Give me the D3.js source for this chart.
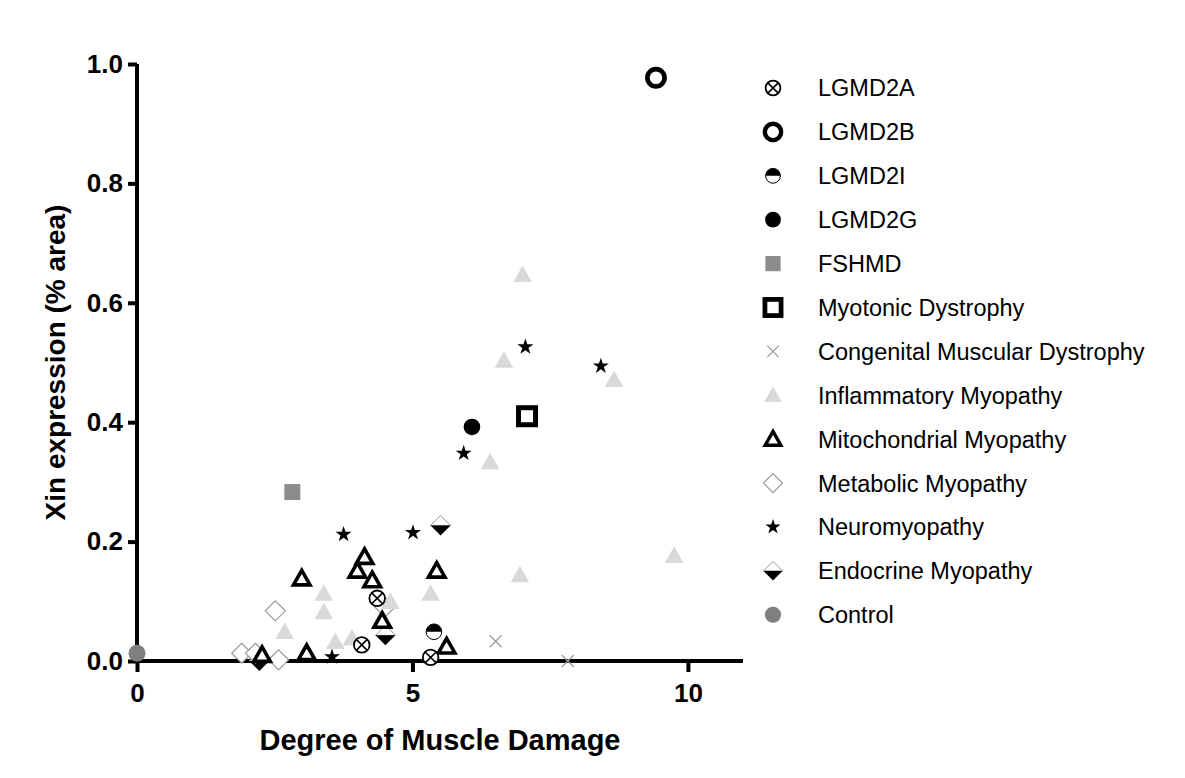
<!DOCTYPE html>
<html lang="en">
<head>
<meta charset="UTF-8">
<title>Xin expression vs muscle damage</title>
<script src="https://d3js.org/d3.v7.min.js"></script>
<style>
  body { margin: 0; background: #fff; }
  svg text { font-family: "Liberation Sans", Arial, sans-serif; }
</style>
</head>
<body>
<div id="chart"></div>
<script>
// series names, in legend order
const seriesNames = ["LGMD2A", "LGMD2B", "LGMD2I", "LGMD2G", "FSHMD", "Myotonic Dystrophy",
  "Congenital Muscular Dystrophy", "Inflammatory Myopathy", "Mitochondrial Myopathy",
  "Metabolic Myopathy", "Neuromyopathy", "Endocrine Myopathy", "Control"];

// values: damage score (x) and Xin % area (y)
const lgmd2aX = [4.36, 4.08, 5.33];
const lgmd2aY = [0.105, 0.027, 0.006];
const lgmd2bX = [9.42];
const lgmd2bY = [0.977];
const lgmd2iX = [5.39];
const lgmd2iY = [0.049];
const lgmd2gX = [6.08];
const lgmd2gY = [0.392];
const fshmdX = [2.82];
const fshmdY = [0.283];
const myotonicX = [7.08];
const myotonicY = [0.41];
const congenitalX = [6.51, 7.82];
const congenitalY = [0.033, 0.0];
const inflamX = [2.68, 3.39, 3.39, 3.6, 3.9, 4.6, 5.33, 6.41, 6.66, 7.0, 6.95, 8.66, 9.75];
const inflamY = [0.049, 0.113, 0.082, 0.032, 0.038, 0.099, 0.113, 0.333, 0.503, 0.647, 0.144, 0.471, 0.176];
const mitoX = [2.27, 2.99, 3.08, 4.13, 4.0, 4.27, 4.45, 5.44, 5.62];
const mitoY = [0.01, 0.138, 0.013, 0.174, 0.151, 0.135, 0.067, 0.151, 0.024];
const metabolicX = [1.9, 2.15, 2.51, 2.57, 4.5];
const metabolicY = [0.013, 0.013, 0.084, 0.002, 0.09];
const neuroX = [3.54, 3.75, 5.01, 5.93, 7.05, 8.42];
const neuroY = [0.007, 0.212, 0.215, 0.348, 0.526, 0.494];
const endocrineX = [2.22, 4.51, 5.51];
const endocrineY = [0.0, 0.043, 0.227];
const controlX = [0];
const controlY = [0.013];

const xTicks = [0, 5, 10];
const yTicks = [0, 0.2, 0.4, 0.6, 0.8, 1.0];

const seriesX = [lgmd2aX, lgmd2bX, lgmd2iX, lgmd2gX, fshmdX, myotonicX, congenitalX,
  inflamX, mitoX, metabolicX, neuroX, endocrineX, controlX];
const seriesY = [lgmd2aY, lgmd2bY, lgmd2iY, lgmd2gY, fshmdY, myotonicY, congenitalY,
  inflamY, mitoY, metabolicY, neuroY, endocrineY, controlY];
const markers = ["otimes", "ring", "half", "dot", "graysq", "boxsq", "cross",
  "lighttri", "mitotri", "diamond", "star", "endo", "control"];

const width = 1185, height = 778;
const svg = d3.select("#chart").append("svg")
  .attr("width", width)
  .attr("height", height);

const x = d3.scaleLinear().domain([0, 11]).range([137, 743]);
const y = d3.scaleLinear().domain([0, 1]).range([661, 64]);

// draws one marker centred on (0,0) of g; k scales it
function drawMarker(g, type, k) {
  const tri = s => `M0,${-s * 0.55}L${s * 0.55},${s * 0.42}L${-s * 0.55},${s * 0.42}Z`;
  if (type === "otimes") {
    const r = 7.8 * k;
    g.append("circle").attr("r", r).attr("fill", "#fff").attr("stroke", "#000").attr("stroke-width", 1.8);
    const d = r * 0.7;
    g.append("path").attr("d", `M${-d},${-d}L${d},${d}M${d},${-d}L${-d},${d}`)
      .attr("stroke", "#000").attr("stroke-width", 1.6);
  } else if (type === "ring") {
    g.append("circle").attr("r", 8.6 * k).attr("fill", "#fff").attr("stroke", "#000").attr("stroke-width", 4.6 * k);
  } else if (type === "half") {
    const r = 7.8 * k;
    g.append("circle").attr("r", r).attr("fill", "#fff").attr("stroke", "#000").attr("stroke-width", 1);
    g.append("path").attr("d", `M${-r},0A${r},${r} 0 0 1 ${r},0Z`).attr("fill", "#000");
  } else if (type === "dot") {
    g.append("circle").attr("r", 8.3 * k).attr("fill", "#000");
  } else if (type === "graysq") {
    const s = 16 * k;
    g.append("rect").attr("x", -s / 2).attr("y", -s / 2).attr("width", s).attr("height", s).attr("fill", "#8c8c8c");
  } else if (type === "boxsq") {
    const s = 17 * k;
    g.append("rect").attr("x", -s / 2).attr("y", -s / 2).attr("width", s).attr("height", s)
      .attr("fill", "#fff").attr("stroke", "#000").attr("stroke-width", 5 * k);
  } else if (type === "cross") {
    const d = 6 * k;
    g.append("path").attr("d", `M${-d},${-d}L${d},${d}M${d},${-d}L${-d},${d}`)
      .attr("stroke", "#999").attr("stroke-width", 1.2);
  } else if (type === "lighttri") {
    g.append("path").attr("d", tri(17 * k)).attr("fill", "#d9d9d9");
  } else if (type === "mitotri") {
    g.append("path").attr("d", tri(15 * k)).attr("fill", "#fff")
      .attr("stroke", "#000").attr("stroke-width", 3.6 * k).attr("stroke-linejoin", "miter");
  } else if (type === "diamond") {
    const s = 10 * k;
    g.append("path").attr("d", `M0,${-s}L${s},0L0,${s}L${-s},0Z`).attr("fill", "#fff")
      .attr("stroke", "#999").attr("stroke-width", 1.2);
  } else if (type === "star") {
    g.append("path").attr("d", d3.symbol(d3.symbolStar, 80 * k * k)()).attr("fill", "#000");
  } else if (type === "endo") {
    const s = 10 * k;
    g.append("path").attr("d", `M${-s},0L0,${-s}L${s},0Z`).attr("fill", "#fff")
      .attr("stroke", "#999").attr("stroke-width", 1);
    g.append("path").attr("d", `M${-s},0L${s},0L0,${s}Z`).attr("fill", "#000");
  } else if (type === "control") {
    g.append("circle").attr("r", 8.5 * k).attr("fill", "#7f7f7f");
  }
}

// axes
const xAxis = svg.append("g")
  .attr("transform", `translate(0,${y(0)})`)
  .call(d3.axisBottom(x).tickValues(xTicks).tickSize(11).tickPadding(12).tickFormat(d3.format("d")));
const yAxis = svg.append("g")
  .attr("transform", `translate(${x(0)},0)`)
  .call(d3.axisLeft(y).tickValues(yTicks).tickSize(9).tickPadding(5).tickFormat(d3.format(".1f")));

[xAxis, yAxis].forEach(a => {
  a.select(".domain").attr("stroke", "#000").attr("stroke-width", 4);
  a.selectAll(".tick line").attr("stroke", "#000").attr("stroke-width", 4);
  a.selectAll(".tick text").attr("fill", "#000").style("font-size", "26px").style("font-weight", "bold");
});
xAxis.select(".domain").attr("d", `M${x(0)},0H${x(11)}`);
yAxis.select(".domain").attr("d", `M0,${y(0)}V${y(1)}`);

// points, last series first so the first ones sit on top
for (let i = seriesNames.length - 1; i >= 0; i--) {
  seriesX[i].forEach((v, j) => {
    const g = svg.append("g").attr("transform", `translate(${x(v)},${y(seriesY[i][j])})`);
    drawMarker(g, markers[i], 1);
  });
}

// axis titles
svg.append("text")
  .attr("x", (x(0) + x(11)) / 2)
  .attr("y", 750)
  .attr("text-anchor", "middle")
  .style("font-size", "29px").style("font-weight", "bold")
  .text("Degree of Muscle Damage");

svg.append("text")
  .attr("transform", `translate(65,${(y(0) + y(1)) / 2}) rotate(-90)`)
  .attr("text-anchor", "middle")
  .style("font-size", "28px").style("font-weight", "bold")
  .text("Xin expression (% area)");

// legend
const legend = svg.append("g");
seriesNames.forEach((name, i) => {
  const yy = 88 + i * 43.9;
  const g = legend.append("g").attr("transform", `translate(773,${yy})`);
  drawMarker(g, markers[i], 0.95);
  legend.append("text")
    .attr("x", 818)
    .attr("y", yy)
    .attr("dy", "0.36em")
    .style("font-size", "23.5px")
    .text(name);
});
</script>
</body>
</html>
